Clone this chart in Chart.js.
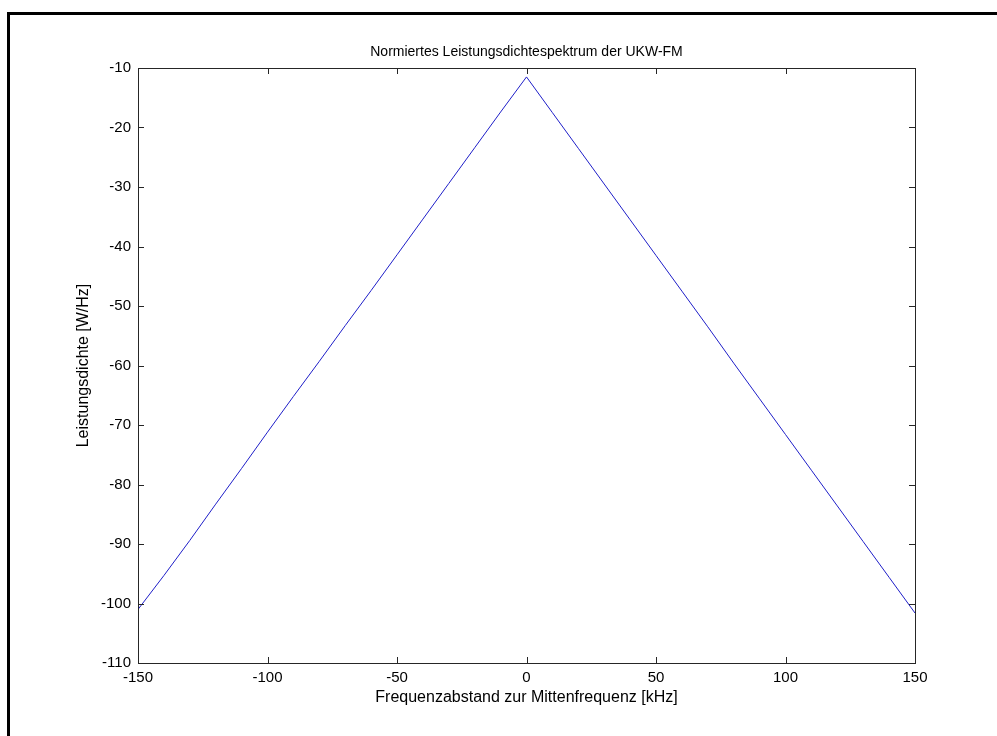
<!DOCTYPE html>
<html>
<head>
<meta charset="utf-8">
<title>Leistungsdichtespektrum UKW-FM</title>
<script src="https://cdn.jsdelivr.net/npm/chart.js@4/dist/chart.umd.min.js"></script>
<style>
  html, body { margin: 0; padding: 0; background: #fff; }
  canvas { display: block; }
</style>
</head>
<body>
<canvas id="psdChart" width="997" height="736"></canvas>
<script>
// Frequenzabstand in kHz und Leistungsdichte in dB
const frequencies = [-150, -140, -130, -120, -110, -100, -90, -80, -70, -60, -50, -40, -30, -20, -10, 0,
                     10, 20, 30, 40, 50, 60, 70, 80, 90, 100, 110, 120, 130, 140, 150];
const densities = [-101.0, -95.3, -89.4, -83.3, -77.3, -71.2, -65.2, -59.3, -53.3, -47.4, -41.4, -35.4, -29.4, -23.4, -17.4, -11.5,
                   -17.5, -23.5, -29.5, -35.5, -41.5, -47.5, -53.5, -59.6, -65.6, -71.6, -77.6, -83.6, -89.6, -95.6, -101.6];
const xTicks = [-150, -100, -50, 0, 50, 100, 150];
const yTicks = [-110, -100, -90, -80, -70, -60, -50, -40, -30, -20, -10];

const titleText = 'Normiertes Leistungsdichtespektrum der UKW-FM';
const xLabelText = 'Frequenzabstand zur Mittenfrequenz [kHz]';
const yLabelText = 'Leistungsdichte [W/Hz]';

const FAMILY = '"Liberation Sans", Arial, sans-serif';
const AXIS_COLOR = '#262626';

// Rahmen, Achsenbox mit Innen-Ticks und Beschriftungen
const matlabAxes = {
    id: 'matlabAxes',
    beforeDraw(chart) {
        const ctx = chart.ctx;
        ctx.save();
        ctx.fillStyle = '#000';
        ctx.fillRect(7, 12, 3, chart.height - 12);
        ctx.fillRect(7, 12, chart.width - 7, 3);
        ctx.restore();
    },
    afterDatasetsDraw(chart) {
        const { ctx, chartArea: a, scales } = chart;
        const len = 6;
        ctx.save();
        ctx.strokeStyle = AXIS_COLOR;
        ctx.lineWidth = 1;
        ctx.strokeRect(Math.round(a.left) + 0.5, Math.round(a.top) + 0.5,
            Math.round(a.right - a.left), Math.round(a.bottom - a.top));
        ctx.beginPath();
        xTicks.forEach(v => {
            const x = Math.round(scales.x.getPixelForValue(v)) + 0.5;
            ctx.moveTo(x, a.bottom); ctx.lineTo(x, a.bottom - len);
            ctx.moveTo(x, a.top); ctx.lineTo(x, a.top + len);
        });
        yTicks.forEach(v => {
            const y = Math.round(scales.y.getPixelForValue(v)) + 0.5;
            ctx.moveTo(a.left, y); ctx.lineTo(a.left + len, y);
            ctx.moveTo(a.right, y); ctx.lineTo(a.right - len, y);
        });
        ctx.stroke();

        ctx.fillStyle = '#000';
        ctx.textAlign = 'center';
        ctx.textBaseline = 'middle';
        const cx = (a.left + a.right) / 2;
        ctx.font = '14px ' + FAMILY;
        ctx.fillText(titleText, cx, a.top - 16);
        ctx.font = '16px ' + FAMILY;
        ctx.fillText(xLabelText, cx, a.bottom + 35);
        ctx.translate(84, (a.top + a.bottom) / 2);
        ctx.rotate(-Math.PI / 2);
        ctx.fillText(yLabelText, 0, 0);
        ctx.restore();
    }
};

new Chart(document.getElementById('psdChart'), {
    type: 'line',
    data: {
        labels: frequencies,
        datasets: [{
            data: frequencies.map((f, i) => ({ x: f, y: densities[i] })),
            borderColor: 'rgb(30, 30, 200)',
            borderWidth: 1,
            pointRadius: 0,
            tension: 0,
            fill: false
        }]
    },
    options: {
        responsive: false,
        animation: false,
        layout: { padding: { top: 68, right: 82, left: 0, bottom: 0 } },
        plugins: {
            legend: { display: false },
            tooltip: { enabled: false }
        },
        scales: {
            x: {
                type: 'linear',
                min: -150,
                max: 150,
                afterFit: scale => { scale.height = 73; },
                afterBuildTicks: scale => { scale.ticks = xTicks.map(v => ({ value: v })); },
                grid: { display: false, drawTicks: false },
                border: { display: false },
                ticks: { color: '#000', font: { family: FAMILY, size: 15 }, padding: 6, maxRotation: 0 }
            },
            y: {
                min: -110,
                max: -10,
                afterFit: scale => { scale.width = 138; },
                afterBuildTicks: scale => { scale.ticks = yTicks.map(v => ({ value: v })); },
                grid: { display: false, drawTicks: false },
                border: { display: false },
                ticks: { color: '#000', font: { family: FAMILY, size: 15 }, padding: 7 }
            }
        }
    },
    plugins: [matlabAxes]
});
</script>
</body>
</html>
